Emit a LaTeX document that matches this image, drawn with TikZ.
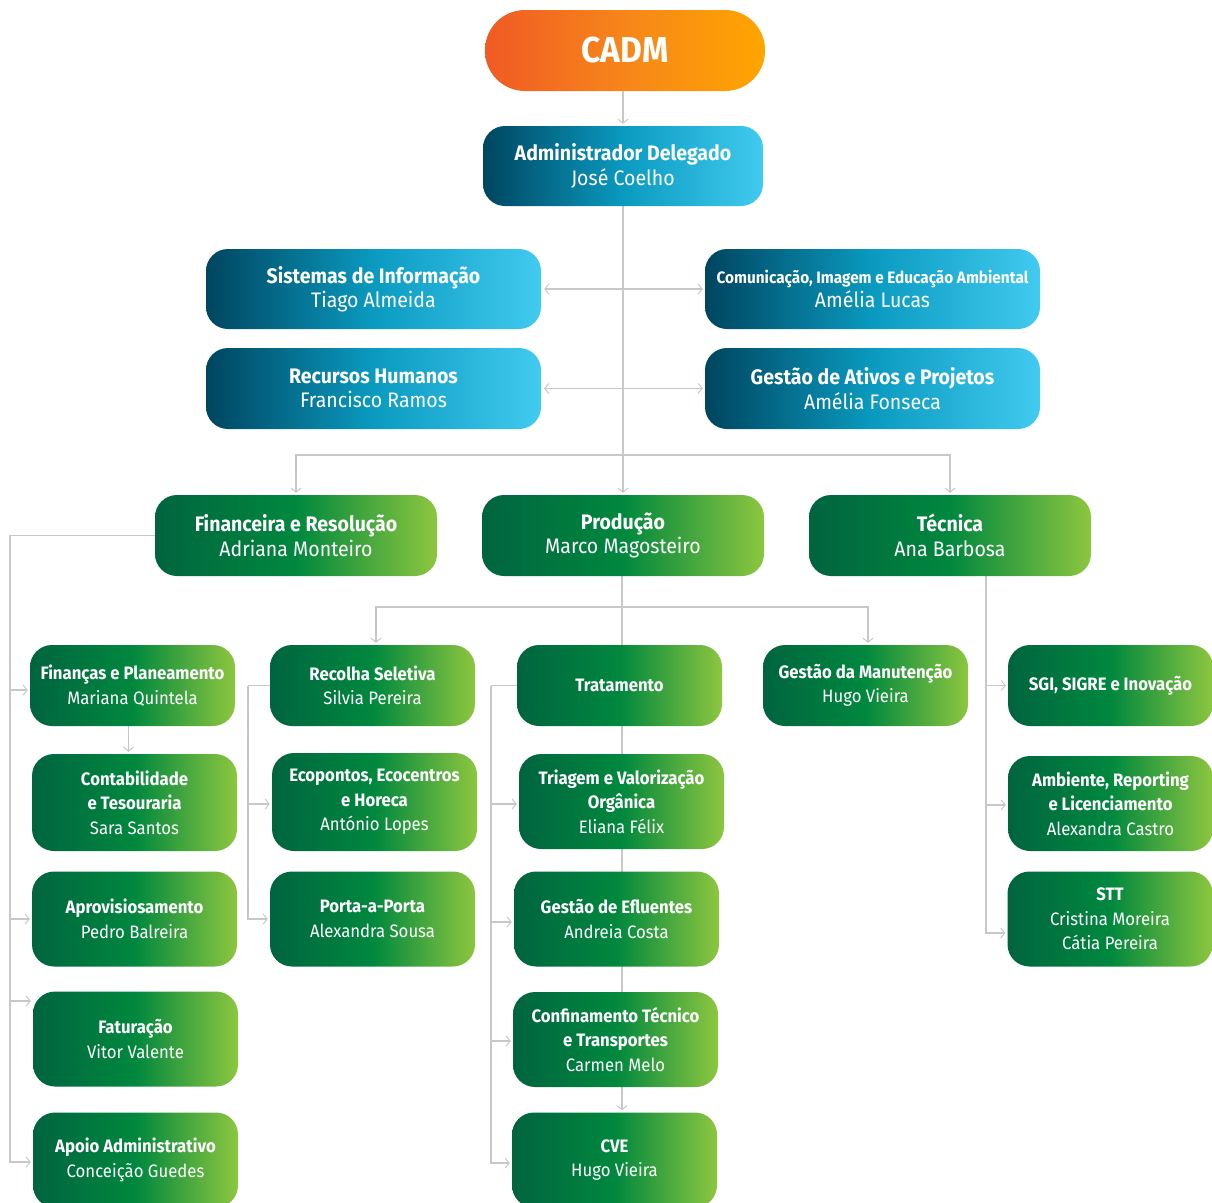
\documentclass[tikz,border=0pt]{standalone}
\usepackage{fontspec}
\setmainfont{Fira Sans}[FakeStretch=0.93]
\usetikzlibrary{arrows.meta,backgrounds}

\definecolor{blueA}{HTML}{00455F}
\definecolor{blueB}{HTML}{0A9AC0}
\definecolor{blueC}{HTML}{42CAF0}
\definecolor{greenA}{HTML}{00643F}
\definecolor{greenB}{HTML}{00883E}
\definecolor{greenC}{HTML}{8DC63F}
\definecolor{orangeA}{HTML}{F05A24}
\definecolor{orangeB}{HTML}{F7861A}
\definecolor{orangeC}{HTML}{FFA500}
\definecolor{linegray}{HTML}{C8C8C8}

\tikzset{
  orgbox/.style={rounded corners=22pt, inner sep=0pt, text=white, align=center},
  bluebox/.style={orgbox, left color=blueA, right color=blueC, middle color=blueB,
    minimum width=335pt, minimum height=80pt, font=\fontsize{21}{24.5}\selectfont},
  headbox/.style={orgbox, left color=greenA, right color=greenC, middle color=greenB,
    minimum width=282pt, minimum height=81pt, font=\fontsize{21}{24.5}\selectfont},
  unitbox/.style={orgbox, left color=greenA, right color=greenC, middle color=greenB,
    minimum width=205pt, minimum height=81pt, font=\fontsize{18}{24.5}\selectfont},
  tallbox/.style={unitbox, minimum height=95pt},
  link/.style={draw=linegray, line width=1.2pt, shorten >=2pt,
    -{Straight Barb[length=4pt,width=10pt,line width=1pt]}},
  wire/.style={draw=linegray, line width=1.2pt}
}

\begin{document}
\begin{tikzpicture}[x=1pt,y=-1pt]
        \useasboundingbox (0,0) rectangle (1212,1202);

        % Top
        \node[orgbox, rounded corners=40pt, left color=orangeA, right color=orangeC, middle color=orangeB,
          minimum width=280pt, minimum height=81pt, font=\fontsize{36}{40}\selectfont\bfseries]
          (cadm) at (625,50.5) {CADM};
        \node[bluebox, minimum width=280pt] (admin) at (623,166) {\textbf{Administrador Delegado}\\José Coelho};

        % Staff units
        \node[bluebox] (sisinf) at (373.5,289) {\textbf{Sistemas de Informação}\\Tiago Almeida};
        \node[bluebox] (comunic) at (872.5,289)
          {{\fontsize{16.5}{24.5}\selectfont\bfseries Comunicação, Imagem e Educação Ambiental}\\Amélia Lucas};
        \node[bluebox, minimum height=81pt] (rechum) at (373.5,388.5) {\textbf{Recursos Humanos}\\Francisco Ramos};
        \node[bluebox, minimum height=81pt] (ativos) at (872.5,388.5) {\textbf{Gestão de Ativos e Projetos}\\Amélia Fonseca};

        % Directions
        \node[headbox] (fin) at (296,535.5) {\textbf{Financeira e Resolução}\\Adriana Monteiro};
        \node[headbox] (prod) at (623,535.5) {\textbf{Produção}\\Marco Magosteiro};
        \node[headbox] (tec) at (950,535.5) {\textbf{Técnica}\\Ana Barbosa};

        % Financeira units
        \node[unitbox] (finplan) at (132.5,685.5) {\textbf{Finanças e Planeamento}\\Mariana Quintela};
        \node[tallbox, minimum height=97pt] (contab) at (134.5,802.5) {\textbf{Contabilidade}\\\textbf{e Tesouraria}\\Sara Santos};
        \node[tallbox] (aprov) at (134.5,919) {\textbf{Aprovisiosamento}\\Pedro Balreira};
        \node[tallbox] (fat) at (135.5,1039) {\textbf{Faturação}\\Vitor Valente};
        \node[tallbox] (apoio) at (135.5,1160) {\textbf{Apoio Administrativo}\\Conceição Guedes};

        % Produção units
        \node[unitbox] (recolha) at (372.5,685.5) {\textbf{Recolha Seletiva}\\Silvia Pereira};
        \node[tallbox, minimum height=98pt] (eco) at (374.5,802) {\textbf{Ecopontos, Ecocentros}\\\textbf{e Horeca}\\António Lopes};
        \node[tallbox] (porta) at (372.5,919) {\textbf{Porta-a-Porta}\\Alexandra Sousa};
        \node[unitbox] (trat) at (619.5,685.5) {\textbf{Tratamento}};
        \node[tallbox] (triagem) at (621.5,801.5) {\textbf{Triagem e Valorização}\\\textbf{Orgânica}\\Eliana Félix};
        \node[tallbox] (eflu) at (616.5,919) {\textbf{Gestão de Efluentes}\\Andreia Costa};
        \node[tallbox] (confin) at (615.5,1039.5) {\textbf{Confinamento Técnico}\\\textbf{e Transportes}\\Carmen Melo};
        \node[tallbox] (cve) at (614.5,1160) {\textbf{CVE}\\Hugo Vieira};
        \node[unitbox] (manut) at (865.5,685.5) {\textbf{Gestão da Manutenção}\\Hugo Vieira};

        % Técnica units
        \node[unitbox] (sgi) at (1110.5,685.5) {\textbf{SGI, SIGRE e Inovação}};
        \node[tallbox] (ambiente) at (1110.5,803.5) {\textbf{Ambiente, Reporting}\\\textbf{e Licenciamento}\\Alexandra Castro};
        \node[tallbox] (stt) at (1110,919) {\textbf{STT}\\Cristina Moreira\\Cátia Pereira};

        % Connectors
        \begin{scope}[on background layer]
          \draw[link] (admin.north |- cadm.south) -- (admin.north);
          \draw[link] (admin.south) -- (prod.north);
          \draw[link, shorten <=3pt, {Straight Barb[length=4pt,width=10pt,line width=1pt]}-{Straight Barb[length=4pt,width=10pt,line width=1pt]}]
            (sisinf.east) -- (comunic.west);
          \draw[link, shorten <=3pt, {Straight Barb[length=4pt,width=10pt,line width=1pt]}-{Straight Barb[length=4pt,width=10pt,line width=1pt]}]
            (rechum.east) -- (ativos.west);

          \coordinate (splitA) at (623,455);
          \draw[link] (splitA) -| (fin.north);
          \draw[link] (splitA) -| (tec.north);

          % Financeira bus
          \coordinate (finbus) at (10,535.5);
          \draw[link] (fin.west) -- (finbus) |- ([yshift=-2pt]apoio.west);
          \draw[link] (finbus |- 0,690) -- ([yshift=-4.5pt]finplan.west);
          \draw[link] (finbus |- aprov.west) -- (aprov.west);
          \draw[link] (finbus |- 0,1001) -- ([yshift=38pt]fat.west);
          \draw[link] ([xshift=-4pt]finplan.south) -- ([xshift=-4pt]finplan.south |- contab.north);

          % Produção bus
          \coordinate (splitB) at (622,607);
          \draw[link] ([xshift=-1pt]prod.south) -- ([xshift=-1pt]prod.south |- cve.north);
          \draw[link] (splitB) -| ([xshift=3.5pt]recolha.north);
          \draw[link] (splitB) -| ([xshift=2.5pt]manut.north);

          \coordinate (recbus) at (248,685.5);
          \draw[wire] (recolha.west) -- (recbus);
          \draw[link] (recbus) |- (porta.west);
          \draw[link] (recbus |- 0,804) -- ([yshift=-2pt]eco.west);

          \coordinate (tratbus) at (491,685.5);
          \draw[wire] (trat.west) -- (tratbus);
          \draw[link] (tratbus) |- ([yshift=-3pt]cve.west);
          \draw[link] (tratbus |- 0,804) -- ([yshift=-2.5pt]triagem.west);
          \draw[link] (tratbus |- 0,922) -- ([yshift=-3pt]eflu.west);
          \draw[link] (tratbus |- 0,1041) -- ([yshift=-1.5pt]confin.west);

          % Técnica bus
          \coordinate (tecbus) at ([xshift=36pt]tec.south);
          \draw[link] (tecbus) |- ([yshift=-14pt]stt.west);
          \draw[link] (tecbus |- sgi.west) -- (sgi.west);
          \draw[link] (tecbus |- 0,805) -- ([yshift=-1.5pt]ambiente.west);
        \end{scope}
    \end{tikzpicture}
\end{document}
